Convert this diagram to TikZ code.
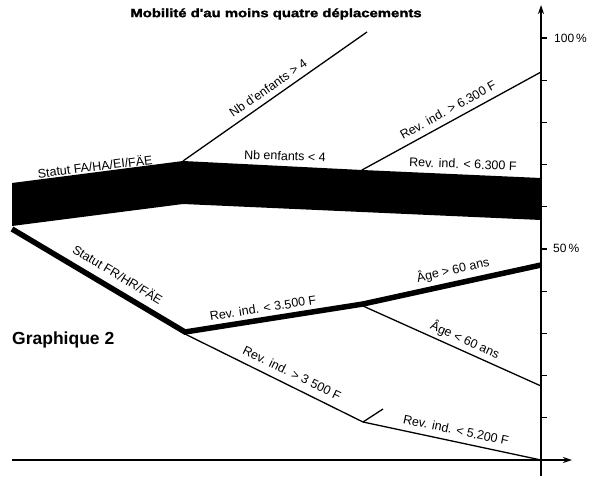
\documentclass[tikz,border=0pt]{standalone}
\usepackage{fontspec}
\setmainfont{Liberation Sans}
\newfontfamily\heavyfont{Liberation Sans Bold}[FakeBold=1.6]
\usepackage{graphicx}
\usetikzlibrary{arrows.meta}
\begin{document}
\begin{tikzpicture}[x=1pt,y=-1pt,
  lbl/.style={inner sep=0pt,font=\fontsize{12.5}{14}\selectfont},
  thinline/.style={line width=1.3pt},
  thickline/.style={line width=5.5pt,line cap=butt},
  axisline/.style={line width=1.4pt,-{Stealth[length=9pt,width=6pt]}},
  tickmark/.style={line width=1.1pt}]
\useasboundingbox (0,0) rectangle (596,476);
\fill[white] (0,0) rectangle (596,476);
% coordinates
\coordinate (L1) at (12,183);
\coordinate (P) at (183,161);
\coordinate (R) at (362,170);
\coordinate (T1) at (541,178);
\coordinate (T2) at (541,220);
\coordinate (Pb) at (183,204);
\coordinate (L2) at (12,226);
\coordinate (Q) at (367,32);
\coordinate (S) at (541,72);
\coordinate (A) at (12,229);
\coordinate (B) at (185,332);
\coordinate (C) at (363,304);
\coordinate (D) at (541,265);
\coordinate (Bt) at (185,334);
\coordinate (Ct) at (363,306);
\coordinate (E) at (363,422);
\coordinate (F) at (541,460);
\coordinate (G) at (541,386);
\coordinate (H) at (383,409);
\coordinate (Ytop) at (541,5);
\coordinate (Ybot) at (541,476);
\coordinate (Xl) at (12,460);
\coordinate (Xr) at (572,460);
% band
\fill[black] (L1) -- (P) -- (R) -- (T1) -- (T2) -- (Pb) -- (L2) -- cycle;
% thin upper branches
\draw[thinline] (P) -- (Q);
\draw[thinline] (R) -- (S);
% thick lower branch
\draw[thickline,line join=miter] (A) -- (B) -- (C) -- (D);
% thin lower branches
\draw[thinline] (Bt) -- (E) -- (F);
\draw[thinline] (Ct) -- (G);
\draw[thinline] (E) -- (H);
% axes
\draw[axisline] (Ybot) -- (Ytop);
\draw[axisline] (Xl) -- (Xr);
\foreach \k in {0,...,9} {
  \draw[tickmark] (541,{38+42.2*\k}) -- (547,{38+42.2*\k});
}
\node[anchor=west,inner sep=0pt,font=\fontsize{12}{14}\selectfont] (p100) at (554,38) {100\,\%};
\node[anchor=west,inner sep=0pt,font=\fontsize{12}{14}\selectfont] (p50) at (553,248) {50\,\%};
% title
\node[inner sep=0pt,font=\heavyfont\fontsize{12}{14}\selectfont] (title) at (276,14) {\scalebox{1.24}[1]{Mobilité d'au moins quatre déplacements}};
\node[anchor=west,inner sep=0pt,font=\bfseries\fontsize{17.5}{20}\selectfont] (graph) at (12,340) {Graphique 2};
% labels
\node[lbl,rotate=7] (l1) at (95,166) {Statut FA/HA/EI/FÄE};
\node[lbl,rotate=35] (l2) at (268,88) {Nb d'enfants > 4};
\node[lbl,rotate=-2] (l3) at (285,156) {Nb enfants < 4};
\node[lbl,rotate=29] (l4) at (448,110) {Rev. ind. > 6.300 F};
\node[lbl,rotate=-2] (l5) at (463,164) {Rev. ind. < 6.300 F};
\node[lbl,rotate=-31] (l6) at (118,274) {Statut FR/HR/FÄE};
\node[lbl,rotate=9] (l7) at (263,308) {Rev. ind. < 3.500 F};
\node[lbl,rotate=13] (l8) at (453,270) {Âge > 60 ans};
\node[lbl,rotate=-24] (l9) at (465,340) {Âge < 60 ans};
\node[lbl,rotate=-26] (l10) at (292,373) {Rev. ind. > 3 500 F};
\node[lbl,rotate=-12] (l11) at (456,430) {Rev. ind. < 5.200 F};
\end{tikzpicture}
\end{document}
